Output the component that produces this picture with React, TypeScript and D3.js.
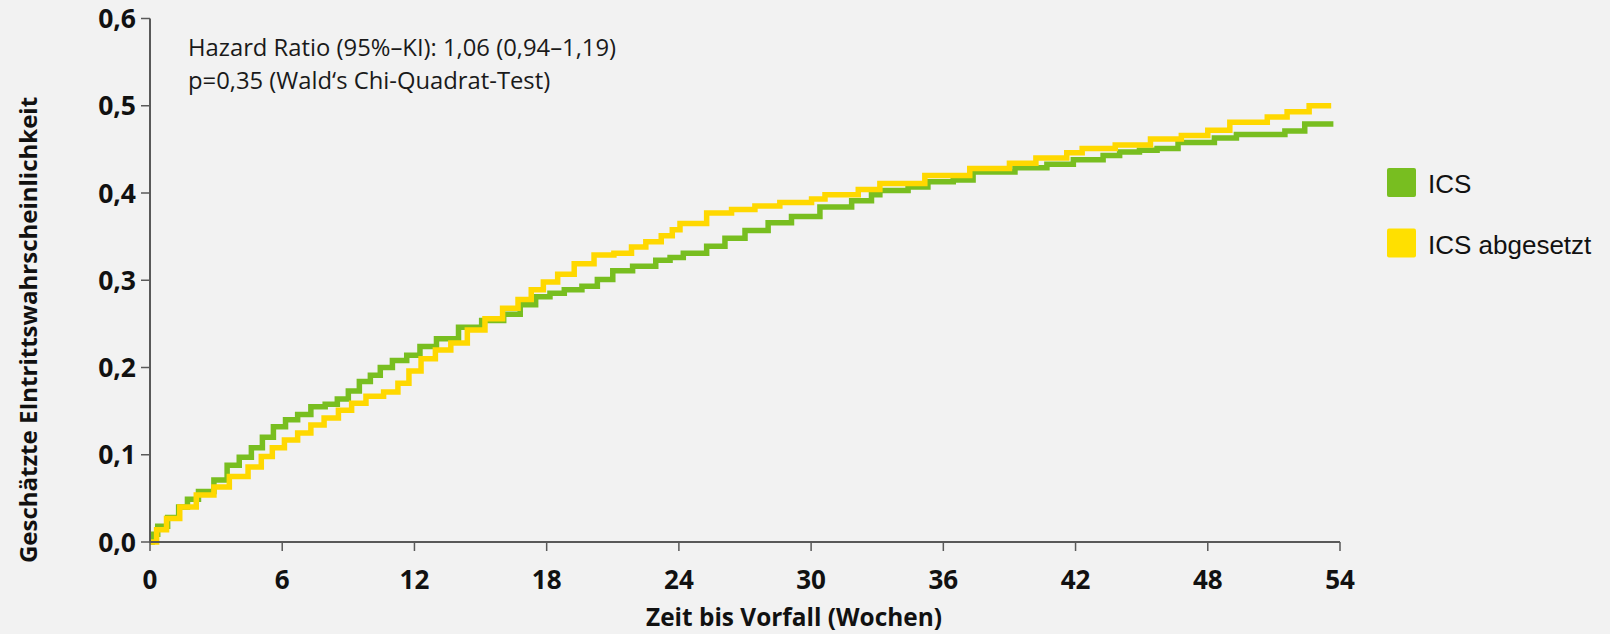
import React from "react";
import * as d3 from "d3";

// ---- data ----
const xTicks = [0, 6, 12, 18, 24, 30, 36, 42, 48, 54];
const yTicks = [0, 0.1, 0.2, 0.3, 0.4, 0.5, 0.6];
const yTickLabels = ["0,0", "0,1", "0,2", "0,3", "0,4", "0,5", "0,6"];

const seriesNames = ["ICS", "ICS abgesetzt"];

// ICS (green): step times (weeks) and cumulative probability after each step
const icsWeeks = [0, 0.1, 0.35, 0.8, 1.3, 1.7, 2.2, 2.9, 3.5, 4.05, 4.6, 5.1, 5.6, 6.15, 6.7, 7.3, 7.95, 8.5, 9.0, 9.5, 10.0, 10.45, 11.0, 11.65, 12.25, 13.0, 14.0, 15.05, 16.05, 16.8, 17.5, 18.15, 18.8, 19.6, 20.3, 21.0, 21.9, 22.95, 23.6, 24.2, 25.26, 26.09, 27.0, 28.05, 29.11, 30.4, 31.84, 32.74, 33.12, 34.4, 35.3, 36.45, 37.35, 39.25, 40.7, 41.9, 43.25, 44.0, 44.9, 45.7, 46.65, 48.3, 49.3, 51.5, 52.4, 53.7];
const icsValues = [0, 0.009, 0.018, 0.028, 0.04, 0.049, 0.058, 0.071, 0.088, 0.097, 0.108, 0.12, 0.132, 0.14, 0.146, 0.155, 0.158, 0.164, 0.173, 0.184, 0.191, 0.2, 0.208, 0.214, 0.224, 0.233, 0.246, 0.254, 0.261, 0.272, 0.281, 0.285, 0.289, 0.293, 0.301, 0.311, 0.316, 0.323, 0.326, 0.331, 0.339, 0.348, 0.357, 0.366, 0.373, 0.384, 0.391, 0.398, 0.403, 0.407, 0.413, 0.415, 0.424, 0.429, 0.433, 0.438, 0.443, 0.447, 0.449, 0.451, 0.458, 0.463, 0.467, 0.471, 0.479, 0.479];

// ICS abgesetzt (yellow)
const absWeeks = [0, 0.3, 0.75, 1.35, 2.1, 2.9, 3.6, 4.45, 5.05, 5.55, 6.1, 6.7, 7.3, 7.9, 8.55, 9.15, 9.8, 10.6, 11.25, 11.75, 12.3, 12.95, 13.65, 14.4, 15.2, 16.0, 16.7, 17.3, 17.85, 18.5, 19.25, 20.15, 21.05, 21.85, 22.5, 23.2, 23.7, 24.05, 25.26, 26.39, 27.45, 28.58, 30.02, 30.63, 32.14, 33.12, 35.16, 37.2, 39.0, 40.2, 41.6, 42.3, 43.8, 45.4, 46.8, 48.0, 49.0, 50.7, 51.6, 52.6, 53.6];
const absValues = [0, 0.014, 0.027, 0.04, 0.054, 0.063, 0.075, 0.086, 0.098, 0.108, 0.117, 0.125, 0.134, 0.142, 0.151, 0.159, 0.167, 0.172, 0.182, 0.196, 0.21, 0.22, 0.228, 0.243, 0.256, 0.268, 0.278, 0.289, 0.298, 0.307, 0.319, 0.329, 0.331, 0.338, 0.344, 0.351, 0.358, 0.365, 0.377, 0.381, 0.385, 0.389, 0.393, 0.398, 0.404, 0.411, 0.42, 0.428, 0.434, 0.44, 0.446, 0.451, 0.455, 0.462, 0.466, 0.472, 0.481, 0.487, 0.493, 0.5, 0.5];

const colors = ["#78BE20", "#FFD800"];
const legendColors = ["#78BE20", "#FFE000"];

const W = 1610;
const H = 634;

export default function App() {
  const x = d3.scaleLinear().domain([0, 54]).range([150, 1340]);
  const y = d3.scaleLinear().domain([0, 0.6]).range([542, 18.5]);

  const line = d3
    .line<[number, number]>()
    .x((d) => x(d[0]))
    .y((d) => y(d[1]))
    .curve(d3.curveStepAfter);

  const icsData: [number, number][] = icsWeeks.map((w, i) => [w, icsValues[i]]);
  const absData: [number, number][] = absWeeks.map((w, i) => [w, absValues[i]]);

  const axisColor = "#595959";
  const font = "'Open Sans', sans-serif";

  return (
    <svg
      width={W}
      height={H}
      style={{ position: "absolute", left: 0, top: 0, display: "block" }}
    >
      <rect x={0} y={0} width={W} height={H} fill="#F2F2F2" />

      {/* annotation */}
      <text x={188} y={56} fontFamily={font} fontSize={23.8} fill="#1a1a1a">
        Hazard Ratio (95%–KI): 1,06 (0,94–1,19)
      </text>
      <text x={188} y={89} fontFamily={font} fontSize={23.8} fill="#1a1a1a">
        p=0,35 (Wald‘s Chi-Quadrat-Test)
      </text>

      {/* lines */}
      <path d={line(icsData) || ""} fill="none" stroke={colors[0]} strokeWidth={5.5} />
      <path d={line(absData) || ""} fill="none" stroke={colors[1]} strokeWidth={5.5} />

      {/* y axis */}
      <line x1={x(0)} x2={x(0)} y1={y(0.6)} y2={y(0)} stroke={axisColor} strokeWidth={2} />
      {yTicks.map((t, i) => (
        <g key={"y" + i}>
          <line x1={x(0) - 9} x2={x(0)} y1={y(t)} y2={y(t)} stroke={axisColor} strokeWidth={1.5} />
          <text
            x={136}
            y={y(t)}
            dy="0.36em"
            textAnchor="end"
            fontFamily={font}
            fontWeight="bold"
            fontSize={26.5}
            fill="#111"
          >
            {yTickLabels[i]}
          </text>
        </g>
      ))}

      {/* x axis */}
      <line x1={x(0) - 1} x2={x(54)} y1={y(0)} y2={y(0)} stroke={axisColor} strokeWidth={2} />
      {xTicks.map((t, i) => (
        <g key={"x" + i}>
          <line x1={x(t)} x2={x(t)} y1={y(0)} y2={y(0) + 9} stroke={axisColor} strokeWidth={1.5} />
          <text
            x={x(t)}
            y={589}
            textAnchor="middle"
            fontFamily={font}
            fontWeight="bold"
            fontSize={26}
            fill="#111"
          >
            {t}
          </text>
        </g>
      ))}

      {/* axis titles */}
      <text
        x={794}
        y={626}
        textAnchor="middle"
        fontFamily={font}
        fontWeight="bold"
        fontSize={24.4}
        fill="#111"
      >
        Zeit bis Vorfall (Wochen)
      </text>
      <text
        transform={`translate(37, 330) rotate(-90)`}
        textAnchor="middle"
        fontFamily={font}
        fontWeight="bold"
        fontSize={24}
        fill="#111"
      >
        Geschätzte EIntrittswahrscheinlichkeit
      </text>

      {/* legend */}
      {seriesNames.map((name, i) => (
        <g key={"lg" + i}>
          <rect
            x={1387}
            y={168 + i * 60.5}
            width={29}
            height={29}
            rx={2}
            fill={legendColors[i]}
          />
          <text
            x={1428}
            y={192.5 + i * 61}
            fontFamily="'Liberation Sans', Arial, sans-serif"
            fontSize={26}
            fill="#111"
          >
            {name}
          </text>
        </g>
      ))}
    </svg>
  );
}
